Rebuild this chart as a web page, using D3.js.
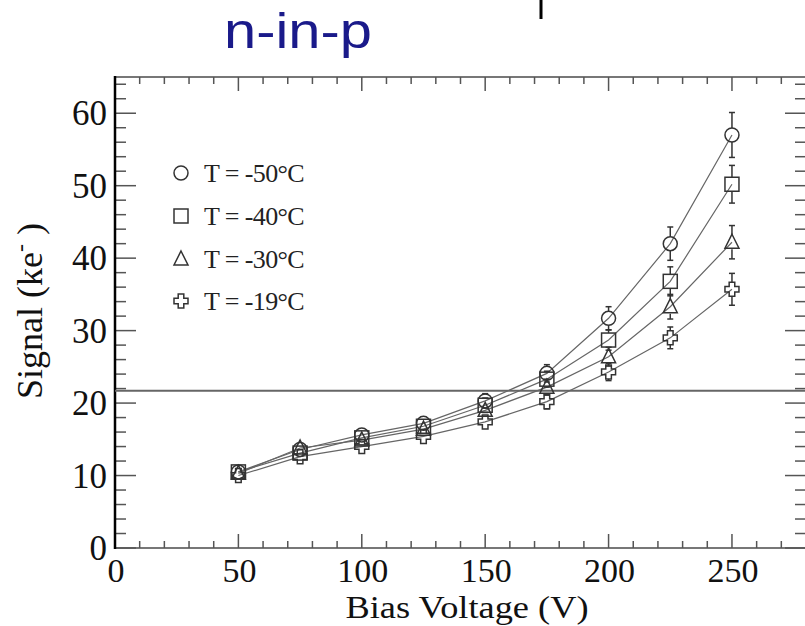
<!DOCTYPE html>
<html><head><meta charset="utf-8">
<script src="https://cdn.jsdelivr.net/npm/d3@7"></script>
<style>body{margin:0;background:#fff}svg{display:block}</style>
</head><body>
<svg id="c" width="805" height="626"></svg>
<script>
const voltages = [50, 75, 100, 125, 150, 175, 200, 225, 250];
const seriesNames = ["T = -50°C", "T = -40°C", "T = -30°C", "T = -19°C"];
const markers = ["circle", "square", "triangle", "cross"];
const sigM50 = [10.5, 13.6, 15.6, 17.2, 20.3, 24.1, 31.7, 42.0, 57.0];
const sigM40 = [10.5, 13.1, 15.2, 16.8, 19.7, 23.3, 28.7, 36.8, 50.2];
const sigM30 = [10.3, 13.8, 14.9, 16.4, 19.0, 22.2, 26.4, 33.3, 42.2];
const sigM19 = [10.0, 12.6, 14.0, 15.4, 17.4, 20.2, 24.3, 29.0, 35.7];
const errM50 = [0.6, 0.7, 0.8, 0.9, 1.0, 1.2, 1.6, 2.3, 3.1];
const errM40 = [0.6, 0.7, 0.8, 0.8, 1.0, 1.1, 1.4, 2.0, 2.6];
const errM30 = [0.6, 0.7, 0.8, 0.8, 0.9, 1.1, 1.3, 1.7, 2.3];
const errM19 = [0.6, 0.6, 0.7, 0.8, 0.9, 1.0, 1.2, 1.5, 2.2];
const xTickLabels = [0, 50, 100, 150, 200, 250];
const yTickLabels = [0, 10, 20, 30, 40, 50, 60];
const thresholdValue = 21.7;
const title = "n-in-p";

const sig = [sigM50, sigM40, sigM30, sigM19];
const err = [errM50, errM40, errM30, errM19];

const svg = d3.select("#c");
const x = d3.scaleLinear().domain([0, 280]).range([115, 806]);
const y = d3.scaleLinear().domain([0, 65]).range([548, 77]);
const serif = "'Liberation Serif','Times New Roman',serif";

// stray fragment at top
svg.append("line").attr("x1", 541).attr("x2", 541).attr("y1", 0).attr("y2", 19)
  .attr("stroke", "#000").attr("stroke-width", 3);

// title
svg.append("text").attr("x", 224).attr("y", 48).text(title)
  .attr("font-family", "'Liberation Sans',Arial,sans-serif").attr("font-size", 50)
  .attr("textLength", 148).attr("lengthAdjust", "spacingAndGlyphs").attr("fill", "#1a1a8a");

// frame
const fr = svg.append("g");
fr.append("line").attr("x1", x(0)).attr("x2", x(280)).attr("y1", y(65)).attr("y2", y(65)).attr("stroke", "#777").attr("stroke-width", 2);
fr.append("line").attr("x1", x(0)).attr("x2", x(280)).attr("y1", y(0)).attr("y2", y(0)).attr("stroke", "#777").attr("stroke-width", 2);
fr.append("line").attr("x1", x(280)).attr("x2", x(280)).attr("y1", y(0)).attr("y2", y(65)).attr("stroke", "#777").attr("stroke-width", 2);

// ticks
const xt = d3.range(0, 281, 10);
const yt = d3.range(0, 65, 2);
const tk = svg.append("g").attr("stroke", "#555").attr("stroke-width", 1.5);
xt.forEach(v => {
  const L = v % 50 === 0 ? 14 : 7;
  tk.append("line").attr("x1", x(v)).attr("x2", x(v)).attr("y1", y(0)).attr("y2", y(0) - L);
  tk.append("line").attr("x1", x(v)).attr("x2", x(v)).attr("y1", y(65)).attr("y2", y(65) + L);
});
yt.forEach(v => {
  const L = v % 10 === 0 ? 21 : 11;
  tk.append("line").attr("y1", y(v)).attr("y2", y(v)).attr("x1", x(0)).attr("x2", x(0) + L);
  tk.append("line").attr("y1", y(v)).attr("y2", y(v)).attr("x1", x(280)).attr("x2", x(280) - L);
});
// left axis line (thick black)
svg.append("line").attr("x1", x(0)).attr("x2", x(0)).attr("y1", y(0) + 1).attr("y2", y(65) - 1).attr("stroke", "#000").attr("stroke-width", 2.5);

// tick labels
svg.append("g").selectAll("text").data(xTickLabels).join("text")
  .attr("x", d => x(d) + 1).attr("y", 582).attr("text-anchor", "middle")
  .attr("font-family", serif).attr("font-size", 34).attr("fill", "#111").text(d => d);
svg.append("g").selectAll("text").data(yTickLabels).join("text")
  .attr("x", 107).attr("y", d => y(d) + 12).attr("text-anchor", "end")
  .attr("font-family", serif).attr("font-size", 35).attr("fill", "#111").text(d => d);

// axis titles
svg.append("text").attr("x", 467).attr("y", 618).attr("text-anchor", "middle")
  .attr("font-family", serif).attr("font-size", 32).attr("fill", "#111")
  .attr("textLength", 243).attr("lengthAdjust", "spacingAndGlyphs").text("Bias Voltage (V)");
const yl = svg.append("text").attr("transform", "translate(42,311) rotate(-90)").attr("text-anchor", "middle")
  .attr("font-family", serif).attr("font-size", 36).attr("fill", "#111");
yl.append("tspan").text("Signal (ke");
yl.append("tspan").attr("dy", -14).attr("font-size", 24).text("-");
yl.append("tspan").attr("dy", 14).text(" )");

// threshold line
svg.append("line").attr("x1", x(0)).attr("x2", x(280)).attr("y1", y(thresholdValue)).attr("y2", y(thresholdValue))
  .attr("stroke", "#666").attr("stroke-width", 2);

// marker shape
function markerPath(g, type, cx, cy) {
  const s = 7;
  if (type === "circle") return g.append("circle").attr("cx", cx).attr("cy", cy).attr("r", s);
  if (type === "square") return g.append("rect").attr("x", cx - s).attr("y", cy - s).attr("width", 2 * s).attr("height", 2 * s);
  if (type === "triangle") return g.append("path").attr("d", `M${cx},${cy - s - 1}L${cx + s},${cy + s - 1}L${cx - s},${cy + s - 1}Z`);
  const a = 2.8, b = 7;
  return g.append("path").attr("d",
    `M${cx - a},${cy - b}H${cx + a}V${cy - a}H${cx + b}V${cy + a}H${cx + a}V${cy + b}H${cx - a}V${cy + a}H${cx - b}V${cy - a}H${cx - a}Z`);
}

const line = d3.line().x((d, i) => x(voltages[i])).y(d => y(d));
const plot = svg.append("g");
sig.forEach((s, k) => {
  plot.append("path").datum(s).attr("d", line).attr("fill", "none")
    .attr("stroke", "#666").attr("stroke-width", 1.2);
});
sig.forEach((s, k) => {
  const g = plot.append("g").attr("fill", "none").attr("stroke", "#333").attr("stroke-width", 1.5);
  s.forEach((v, i) => {
    const cx = x(voltages[i]), cy = y(v);
    const top = y(v + err[k][i]), bot = y(v - err[k][i]);
    if (cy - top > 7) {
      g.append("line").attr("x1", cx).attr("x2", cx).attr("y1", top).attr("y2", cy - 7);
      g.append("line").attr("x1", cx - 3).attr("x2", cx + 3).attr("y1", top).attr("y2", top);
      g.append("line").attr("x1", cx).attr("x2", cx).attr("y1", cy + 7).attr("y2", bot);
      g.append("line").attr("x1", cx - 3).attr("x2", cx + 3).attr("y1", bot).attr("y2", bot);
    }
    markerPath(g, markers[k], cx, cy);
  });
});

// legend
const legY = [173, 216, 259, 301];
seriesNames.forEach((n, k) => {
  const g = svg.append("g");
  markerPath(g, markers[k], 181, legY[k]).attr("fill", "none").attr("stroke", "#333").attr("stroke-width", 1.5);
  g.append("text").attr("x", 204).attr("y", legY[k] + 9).text(n)
    .attr("font-family", serif).attr("font-size", 26).attr("fill", "#222").attr("letter-spacing", -0.6);
});
</script>
</body></html>
